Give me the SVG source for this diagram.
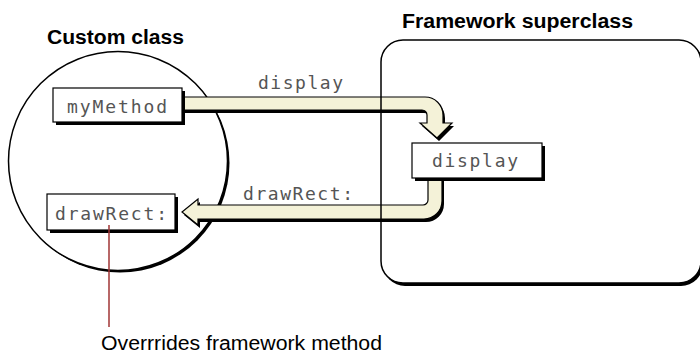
<svg xmlns="http://www.w3.org/2000/svg" width="700" height="354" viewBox="0 0 700 354">
<style>
.title{font-family:"Liberation Sans",Arial,sans-serif;font-weight:bold;font-size:20px;fill:#000}
.note{font-family:"Liberation Sans",Arial,sans-serif;font-size:20px;fill:#000}
.mono{font-family:"DejaVu Sans Mono","Liberation Mono",monospace;font-size:18px;fill:#555}
.box{fill:#fff;stroke:#000;stroke-width:1.2}
.shadow{fill:#000}
.arrow{fill:#f4f2d8;stroke:#000;stroke-width:1.2;stroke-linejoin:miter}
</style>
<defs>
<path id="arrTop" d="M182,97 H425 A18,18 0 0 1 443,115 V123 H452 L437,138 L420,123 H427 V115 A5,5 0 0 0 422,110 H182 Z"/>
<path id="arrBot" d="M428,178 V200 A5,5 0 0 1 423,205 H198 V199 L182,212 L198,225 V219 H424 A18,18 0 0 0 442,201 V178 Z"/>
</defs>
<g id="framework-bg">
<rect x="383" y="42" width="320" height="244" rx="22" class="shadow"/>
<rect x="381" y="40" width="320" height="243" rx="22" fill="#fff"/>
</g>
<g id="custom-class">
<circle cx="120" cy="163" r="109.5" class="shadow"/>
<circle cx="118" cy="161" r="109.5" fill="#fff" stroke="#000" stroke-width="1.5"/>
<text class="title" x="47" y="44" textLength="137" lengthAdjust="spacingAndGlyphs">Custom class</text>
</g>
<g id="connectors">
<use href="#arrTop" class="shadow" transform="translate(2,3)"/>
<use href="#arrTop" class="arrow"/>
<use href="#arrBot" class="shadow" transform="translate(2,3)"/>
<use href="#arrBot" class="arrow"/>
<text class="mono" x="258" y="89" textLength="85" lengthAdjust="spacing">display</text>
<text class="mono" x="243" y="200" textLength="110" lengthAdjust="spacing">drawRect:</text>
</g>
<g id="framework-superclass">
<rect x="381" y="40" width="320" height="243" rx="22" fill="none" stroke="#000" stroke-width="1.5"/>
<text class="title" x="402" y="28" textLength="231" lengthAdjust="spacingAndGlyphs">Framework superclass</text>
</g>
<g id="myMethod">
<rect x="56" y="91" width="129" height="34" class="shadow"/>
<rect x="53" y="88" width="129" height="34" class="box"/>
<text class="mono" x="67" y="113" textLength="100" lengthAdjust="spacing">myMethod</text>
</g>
<g id="display">
<rect x="415" y="146" width="130" height="35" class="shadow"/>
<rect x="412" y="143" width="130" height="35" class="box"/>
<text class="mono" x="432" y="167" textLength="86" lengthAdjust="spacing">display</text>
</g>
<g id="drawRect">
<rect x="50" y="197" width="128" height="36" class="shadow"/>
<rect x="47" y="194" width="128" height="36" class="box"/>
<text class="mono" x="55" y="220" textLength="112" lengthAdjust="spacing">drawRect:</text>
</g>
<g id="annotation">
<line x1="109" y1="225" x2="109" y2="327" stroke="#a03535" stroke-width="1.5"/>
<text class="note" x="101" y="350" textLength="281" lengthAdjust="spacingAndGlyphs">Overrrides framework method</text>
</g>
</svg>
